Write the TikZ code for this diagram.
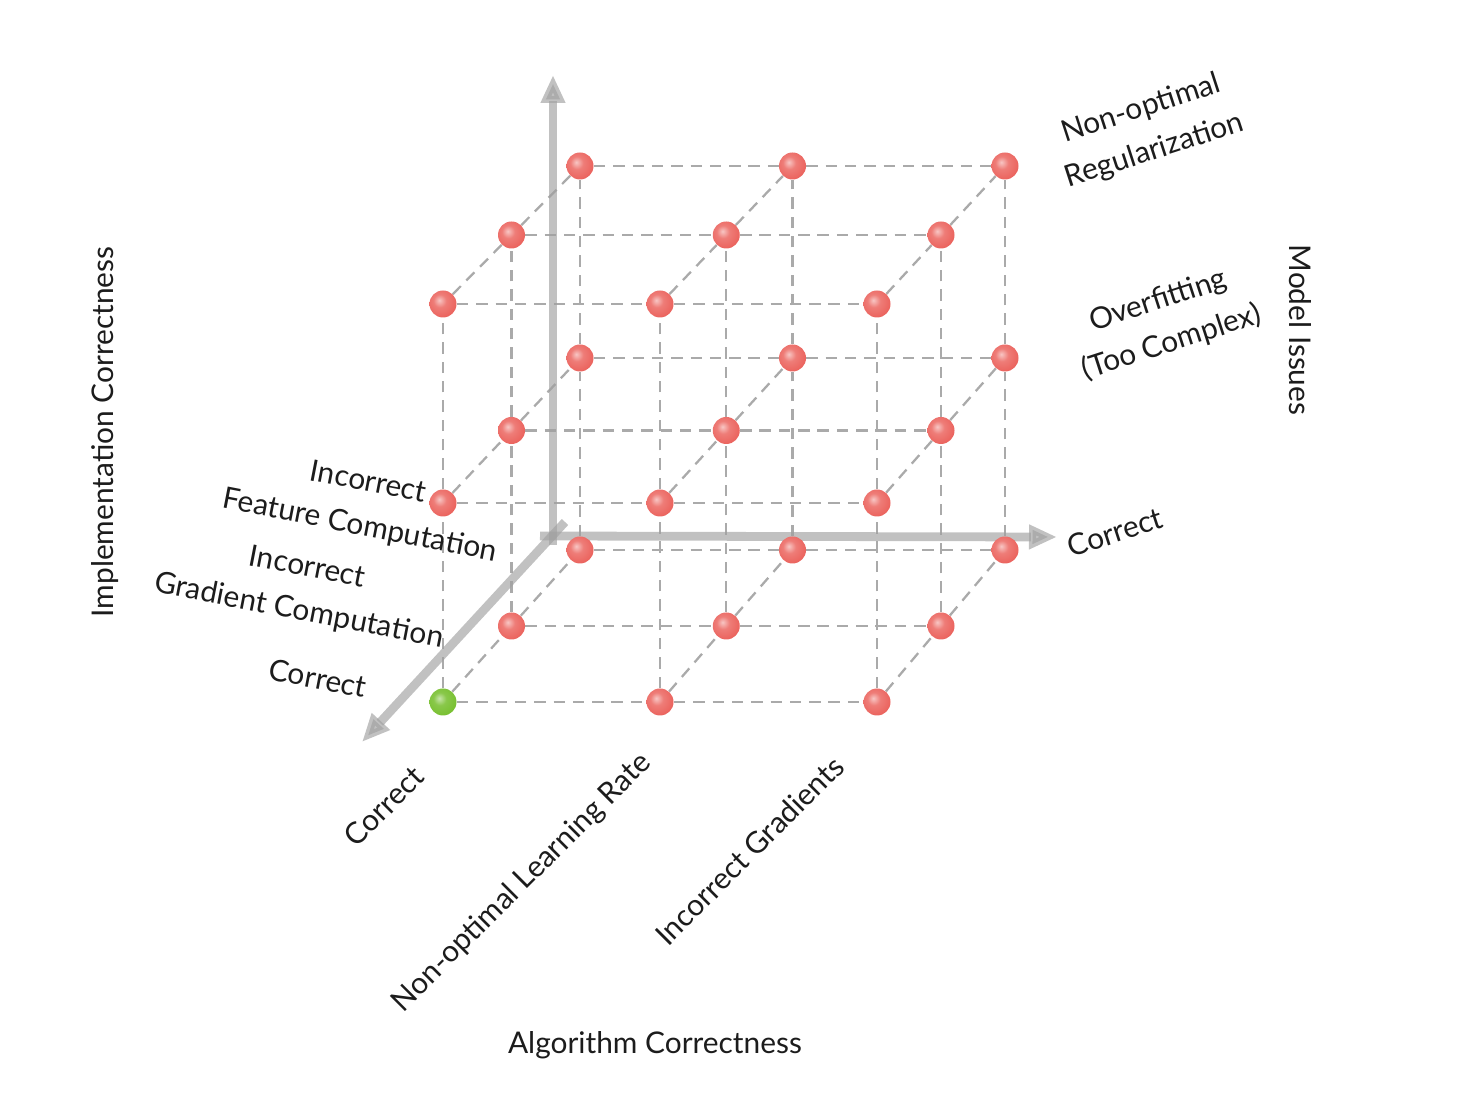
\documentclass[tikz,border=0pt]{standalone}
\usepackage{fontspec}
\setmainfont{Lato}
\usetikzlibrary{arrows.meta,backgrounds}
\definecolor{ballred}{RGB}{234,92,86}
\definecolor{ballgreen}{RGB}{116,190,42}
\definecolor{gridgray}{RGB}{170,170,170}
\definecolor{axisgray}{RGB}{160,160,160}
\definecolor{textdark}{RGB}{28,28,28}
\pgfdeclareradialshading{redball}{\pgfpoint{-7bp}{7bp}}{%
    color(0bp)=(ballred!35!white); color(12bp)=(ballred!80!white);
    color(34bp)=(ballred); color(52bp)=(ballred!88!black); color(70bp)=(ballred!85!black)}
\pgfdeclareradialshading{greenball}{\pgfpoint{-7bp}{7bp}}{%
    color(0bp)=(ballgreen!40!white); color(12bp)=(ballgreen!85!white);
    color(34bp)=(ballgreen); color(52bp)=(ballgreen!85!black); color(70bp)=(ballgreen!80!black)}

\begin{document}
\begin{tikzpicture}[
    ball/.style={circle, inner sep=0pt, minimum size=0.54cm},
    grid/.style={gridgray, line width=1.3pt, dash pattern=on 6.5pt off 4.5pt},
    axis/.style={axisgray, opacity=0.65, line width=5pt,
                 -{Triangle[length=0.56cm, width=0.46cm]}},
    lbl/.style={font=\fontsize{17}{25}\selectfont, align=center, text=textdark}
]
    \useasboundingbox (-8.86,-8.16) rectangle (20.58,14.04);

    % balls: algorithm (i), implementation (j), model (k)
    \foreach \i in {0,1,2}
        \foreach \j in {0,1,2}
            \foreach \k in {0,1,2}{
                \ifnum\i\j\k=0 \def\bc{greenball}\else\def\bc{redball}\fi
                \node[ball, shading=\bc] (b\i\j\k)
                    at (\i*4.34-\i*\j*0.045+\j*1.37, \j*1.52+\k*3.98-\k*\j*0.07) {};
            }

    \begin{scope}[on background layer]
        \foreach \a in {0,1,2}
            \foreach \b in {0,1,2}{
                \draw[grid] (b0\a\b) -- (b1\a\b) -- (b2\a\b);
                \draw[grid] (b\a0\b) -- (b\a1\b) -- (b\a2\b);
                \draw[grid] (b\a\b0) -- (b\a\b1) -- (b\a\b2);
            }

        % axes
        \coordinate (vbase) at (2.2,3.14);
        \coordinate (vtip) at (2.2,12.54);
        \coordinate (hbase) at (1.94,3.32);
        \coordinate (htip) at (12.28,3.30);
        \coordinate (dbase) at (2.44,3.6);
        \coordinate (dtip) at (-1.62,-0.8);
        \draw[axis] (vbase) -- (vtip);
        \draw[axis] (hbase) -- (htip);
        \draw[axis] (dbase) -- (dtip);
    \end{scope}

    % implementation labels
    \node[lbl, rotate=-11] (featlbl) at (-1.58,3.94) {Incorrect\\Feature Computation};
    \node[lbl, rotate=-11] (gradlbl) at (-2.8,2.24) {Incorrect\\Gradient Computation};
    \node[lbl, rotate=-11] (implok) at (-2.5,0.48) {Correct};

    % model labels
    \node[lbl, rotate=18] (regul) at (14.1,11.44) {Non-optimal\\Regularization};
    \node[lbl, rotate=18] (overfit) at (14.44,7.6) {Overfitting\\(Too Complex)};
    \node[lbl, rotate=18] (modelok) at (13.44,3.4) {Correct};

    % algorithm labels
    \node[lbl, rotate=45, anchor=east] (algok) at (-0.4,-1.3) {Correct};
    \node[lbl, rotate=45, anchor=east] (lrate) at (4.16,-1.04) {Non-optimal Learning Rate};
    \node[lbl, rotate=45, anchor=east] (badgrad) at (8.0,-1.1) {Incorrect Gradients};

    % axis titles
    \node[lbl, rotate=90] (impltitle) at (-6.76,5.4) {Implementation Correctness};
    \node[lbl, rotate=-90] (modeltitle) at (17.14,7.44) {Model Issues};
    \node[lbl] (algtitle) at (4.24,-6.86) {Algorithm Correctness};
\end{tikzpicture}
\end{document}
